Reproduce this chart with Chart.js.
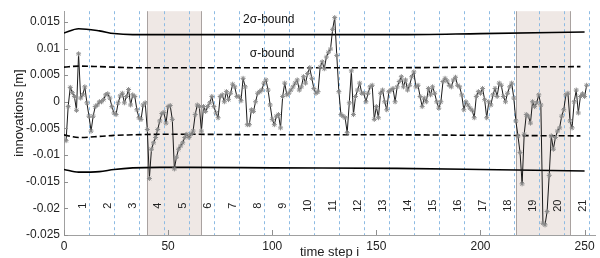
<!DOCTYPE html>
<html>
<head>
<meta charset="utf-8">
<script src="https://cdn.jsdelivr.net/npm/chart.js@4.4.0/dist/chart.umd.min.js"></script>
<style>
  html, body { margin: 0; padding: 0; background: #fff; }
</style>
</head>
<body>
<canvas id="innovChart" width="600" height="258"></canvas>
<script>
// innovation per time step, starting at i = 1
const innovations = [
  -0.0073, -0.0009, 0.0027, 0.0017, 0.001, -0.0016, 0.009, 0.0007, 0.0013, 0.0028,
  -0.0002, -0.0027, -0.0055, -0.0027, -0.0009, -0.0006, 0, 0, 0.0004, 0.0013,
  0.0015, 0.0007, -0.0009, -0.0021, -0.0024, -0.0002, 0.0011, 0.0016, -0.0002, 0.001,
  0.0023, -0.0006, 0.0013, 0.001, -0.0015, -0.003, -0.0033, -0.0006, -0.0002, -0.0052,
  -0.0144, -0.0089, -0.0077, -0.0067, -0.0052, -0.0036, -0.0022, -0.002, -0.004, -0.0009,
  -0.0007, -0.0033, -0.0126, -0.0104, -0.0089, -0.0083, -0.0077, -0.0067, -0.0061, -0.0067,
  -0.0061, -0.0055, -0.0024, -0.0006, -0.0009, -0.0055, -0.0009, -0.0018, -0.0009, -0.0002,
  0.001, -0.0009, -0.0021, -0.003, 0.001, 0.0013, 0, 0.0019, 0.0004, 0.0016,
  0.0033, 0.0028, 0.001, 0.001, 0.0002, 0.0044, 0.0028, -0.0043, -0.0043, -0.0015,
  -0.0018, 0, 0.0016, 0.0019, 0.0022, 0.0035, 0.0041, 0.0022, -0.0006, -0.0033,
  -0.0043, -0.0027, -0.0024, -0.0049, 0.001, 0.0035, 0.0013, 0.0016, 0.0022, 0.0028,
  0.0035, 0.0041, 0.0022, 0.0028, 0.0047, 0.0035, 0.0053, 0.0064, 0.0044, 0.0025,
  0.0016, 0.0019, 0.0065, 0.0075, 0.0062, 0.0084, 0.0093, 0.0099, 0.0136, 0.0158,
  0.0087, 0.0019, -0.0024, -0.0027, -0.003, -0.0058, -0.0002, 0.0058, -0.0024, 0.001,
  0.0022, 0.0035, 0.0016, 0.0016, 0, 0.0016, 0.0028, 0.0031, -0.0033, -0.0009,
  -0.003, 0.0016, 0.0022, 0, -0.0015, 0.0019, 0.0022, 0.0025, 0, 0.0028,
  0.0038, 0.0047, 0.0028, 0.0041, 0.0022, 0.0031, 0.0047, 0.0056, 0.0028, 0.0031,
  0.001, -0.0009, 0.0007, 0, 0.0025, 0.0013, 0.0028, 0.0016, 0, -0.0012,
  0, 0.0038, 0.0044, 0.0039, 0.0031, 0.0028, 0.0041, 0.0046, 0.0031, 0.0028,
  0.0013, -0.0015, 0, -0.0006, -0.0012, -0.0016, -0.003, 0.001, 0.0019, 0.0016,
  0.0025, 0.0004, -0.003, 0, -0.0006, 0.0013, 0.0025, 0.001, 0.0035, 0.0031,
  0.001, 0, 0.0016, 0.0028, 0.0035, 0.0007, -0.0036, -0.0064, -0.0095, -0.0154,
  -0.0061, -0.0024, -0.0027, -0.004, 0, -0.0009, -0.0002, 0.0013, -0.0006, -0.0228,
  -0.0231, -0.0206, -0.0138, -0.0064, -0.0089, -0.0067, -0.0055, -0.0049, -0.0027, -0.0015,
  0.0013, 0.0016, -0.0036, -0.0049, 0, 0.0022, -0.0021, 0.001, 0.0015, 0.001,
  0.0031
];

// bounds, read at a few time steps
const boundSteps = [0, 7, 17, 24, 33, 46, 60, 100, 160, 200, 250];
const upper2 = [0.0129, 0.0137, 0.0133, 0.0128, 0.0126, 0.0126, 0.0126, 0.0126, 0.0126, 0.0128, 0.0131];
const lower2 = [-0.0127, -0.0132, -0.0131, -0.0127, -0.0124, -0.0123, -0.0123, -0.0124, -0.0125, -0.0127, -0.013];
const sigmaSteps = [0, 7, 17, 24, 33, 46, 60, 100, 160, 200, 248];
const upper1 = [0.0065, 0.0067, 0.0066, 0.0065, 0.0064, 0.0064, 0.0064, 0.0064, 0.0064, 0.0065, 0.0066];
const lower1 = [-0.0062, -0.0067, -0.0065, -0.0063, -0.0062, -0.0061, -0.0061, -0.0062, -0.0062, -0.0063, -0.0064];

// shaded windows and segment markers
const shadeStart = [40, 217];
const shadeEnd = [66, 243];
const segmentEnds = [12, 24, 36, 48, 60, 72, 84, 96, 108, 120, 132, 144, 156, 168, 180, 192, 204, 216, 228, 240, 252];
const segmentLabels = ["1", "2", "3", "4", "5", "6", "7", "8", "9", "10", "11", "12", "13", "14", "15", "16", "17", "18", "19", "20", "21"];

const xTicks = [0, 50, 100, 150, 200, 250];
const yTicks = [-0.025, -0.02, -0.015, -0.01, -0.005, 0, 0.005, 0.01, 0.015];
const yTickLabels = ["-0.025", "-0.02", "-0.015", "-0.01", "-0.005", "0", "0.005", "0.01", "0.015"];

const FONT = "'Liberation Sans', Arial, sans-serif";

const toPoints = (xs, ys) => xs.map((x, k) => ({ x: x, y: ys[k] }));

const backdrop = {
  id: "backdrop",
  beforeDraw(chart) {
    const { ctx, chartArea: a, scales: { x, y } } = chart;
    ctx.save();
    // shaded windows
    shadeStart.forEach((s, k) => {
      const x0 = Math.round(x.getPixelForValue(s)) + 0.5;
      const x1 = Math.round(x.getPixelForValue(shadeEnd[k])) + 0.5;
      ctx.fillStyle = "#efe8e5";
      ctx.fillRect(x0, a.top, x1 - x0, a.bottom - a.top);
      ctx.strokeStyle = "#a9a2a0";
      ctx.lineWidth = 1;
      ctx.beginPath();
      ctx.moveTo(x0, a.top); ctx.lineTo(x0, a.bottom);
      ctx.moveTo(x1, a.top); ctx.lineTo(x1, a.bottom);
      ctx.stroke();
    });
    // blue dashed segment lines
    ctx.strokeStyle = "#8dbbe3";
    ctx.lineWidth = 1;
    ctx.setLineDash([3, 3]);
    segmentEnds.forEach(v => {
      const px = Math.round(x.getPixelForValue(v)) + 0.5;
      ctx.beginPath();
      ctx.moveTo(px, a.top);
      ctx.lineTo(px, a.bottom);
      ctx.stroke();
    });
    ctx.setLineDash([]);
    // segment numbers
    ctx.fillStyle = "#222";
    ctx.font = "11px " + FONT;
    ctx.textAlign = "center";
    ctx.textBaseline = "middle";
    segmentLabels.forEach((t, k) => {
      ctx.save();
      ctx.translate(x.getPixelForValue(segmentEnds[k] - 3), y.getPixelForValue(-0.0195));
      ctx.rotate(-Math.PI / 2);
      ctx.fillText(t, 0, 0);
      ctx.restore();
    });
    ctx.restore();
  },
  afterDraw(chart) {
    const { ctx, chartArea: a, scales: { x, y } } = chart;
    ctx.save();
    // inward tick marks
    ctx.strokeStyle = "#8f8f8f";
    ctx.lineWidth = 1;
    ctx.beginPath();
    yTicks.forEach(v => {
      const py = Math.round(y.getPixelForValue(v)) + 0.5;
      ctx.moveTo(a.left, py); ctx.lineTo(a.left + 4, py);
    });
    xTicks.forEach(v => {
      const px = Math.round(x.getPixelForValue(v)) + 0.5;
      ctx.moveTo(px, a.bottom); ctx.lineTo(px, a.bottom - 5);
    });
    ctx.stroke();
    // bound labels
    ctx.fillStyle = "#111";
    ctx.font = "12px " + FONT;
    ctx.textAlign = "right";
    ctx.textBaseline = "middle";
    ctx.fillText("2σ-bound", x.getPixelForValue(110.7), y.getPixelForValue(0.0154));
    ctx.fillText("σ-bound", x.getPixelForValue(110.7), y.getPixelForValue(0.009));
    // axis titles
    ctx.fillStyle = "#222";
    ctx.font = "13px " + FONT;
    ctx.textAlign = "center";
    ctx.fillText("time step i", (a.left + a.right) / 2, 252);
    ctx.save();
    ctx.translate(19, 113);
    ctx.rotate(-Math.PI / 2);
    ctx.fillText("innovations [m]", 0, 0);
    ctx.restore();
    ctx.restore();
  }
};

const ctx = document.getElementById("innovChart").getContext("2d");

new Chart(ctx, {
  type: "line",
  data: {
    datasets: [
      {
        label: "innovations",
        data: innovations.map((v, k) => ({ x: k + 1, y: v })),
        borderColor: "#1a1a1a",
        borderWidth: 1,
        tension: 0,
        pointStyle: "star",
        pointRadius: 2.5,
        pointBorderColor: "#8a8a8a",
        pointBorderWidth: 1,
        pointBackgroundColor: "rgba(0,0,0,0)"
      },
      {
        label: "2σ upper",
        data: toPoints(boundSteps, upper2),
        borderColor: "#000",
        borderWidth: 1.6,
        pointRadius: 0,
        cubicInterpolationMode: "monotone"
      },
      {
        label: "2σ lower",
        data: toPoints(boundSteps, lower2),
        borderColor: "#000",
        borderWidth: 1.6,
        pointRadius: 0,
        cubicInterpolationMode: "monotone"
      },
      {
        label: "σ upper",
        data: toPoints(sigmaSteps, upper1),
        borderColor: "#000",
        borderWidth: 1.6,
        borderDash: [6, 3],
        pointRadius: 0,
        cubicInterpolationMode: "monotone"
      },
      {
        label: "σ lower",
        data: toPoints(sigmaSteps, lower1),
        borderColor: "#000",
        borderWidth: 1.6,
        borderDash: [6, 3],
        pointRadius: 0,
        cubicInterpolationMode: "monotone"
      }
    ]
  },
  options: {
    responsive: false,
    animation: false,
    layout: { padding: { top: 8, right: 1, left: 0, bottom: 0 } },
    plugins: {
      legend: { display: false },
      tooltip: { enabled: false }
    },
    scales: {
      x: {
        type: "linear",
        min: 0,
        max: 255,
        afterFit: (s) => { s.height = 23; },
        afterBuildTicks: (s) => { s.ticks = xTicks.map(v => ({ value: v })); },
        grid: { display: false, drawTicks: false },
        border: { display: true, color: "#a0a0a0", width: 1 },
        ticks: {
          padding: 4,
          maxRotation: 0,
          color: "#222",
          font: { family: FONT, size: 12 },
          callback: (v) => String(v)
        }
      },
      y: {
        min: -0.025,
        max: 0.017,
        afterFit: (s) => { s.width = 64; },
        afterBuildTicks: (s) => { s.ticks = yTicks.map(v => ({ value: v })); },
        grid: { display: false, drawTicks: false },
        border: { display: true, color: "#a0a0a0", width: 1 },
        ticks: {
          padding: 4,
          color: "#222",
          font: { family: FONT, size: 12 },
          callback: (v, i) => yTickLabels[i]
        }
      }
    }
  },
  plugins: [backdrop]
});
</script>
</body>
</html>
